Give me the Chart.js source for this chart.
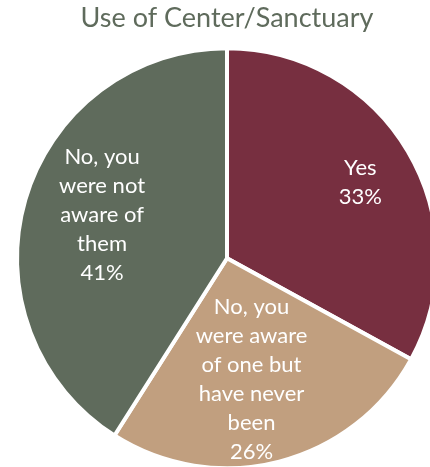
<!DOCTYPE html>
<html>
<head>
<meta charset="utf-8">
<script src="https://cdn.jsdelivr.net/npm/chart.js@4/dist/chart.umd.min.js"></script>
<style>
  html, body { margin: 0; padding: 0; background: #fff; overflow: hidden; }
  #wrap { position: absolute; left: 0; top: 0; width: 454px; height: 482px; }
</style>
</head>
<body>
<div id="wrap"><canvas id="pie" width="454" height="482"></canvas></div>
<script>
// survey answers, clockwise from 12 o'clock
const categories = ['Yes', 'No, you were aware of one but have never been', 'No, you were not aware of them'];
const shares = [33, 26, 41];
const sliceColors = ['#772F40', '#C19F7F', '#5F6B5C'];

// wrapped label text inside each slice
const labelLines = [
  ['Yes'],
  ['No, you', 'were aware', 'of one but', 'have never', 'been'],
  ['No, you', 'were not', 'aware of', 'them']
];
// where each label sits: share of radius, and a small turn (deg) off the slice middle
const labelReach = [0.73, 0.59, 0.63];
const labelTurn = [1, 3, 3];

const sliceLabels = {
  id: 'sliceLabels',
  afterDatasetsDraw(chart) {
    const ctx = chart.ctx;
    const arcs = chart.getDatasetMeta(0).data;
    ctx.save();
    ctx.fillStyle = '#FFFFFF';
    ctx.font = '22px Lato';
    ctx.textAlign = 'center';
    ctx.textBaseline = 'middle';
    const lineH = 29;
    arcs.forEach((arc, i) => {
      const mid = (arc.startAngle + arc.endAngle) / 2 + labelTurn[i] * Math.PI / 180;
      const dist = arc.outerRadius * labelReach[i];
      const cx = arc.x + Math.cos(mid) * dist;
      const cy = arc.y + Math.sin(mid) * dist;
      const lines = labelLines[i].concat([shares[i] + '%']);
      const top = cy - (lines.length - 1) * lineH / 2;
      lines.forEach((t, k) => ctx.fillText(t, cx, top + k * lineH));
    });
    ctx.restore();
  }
};

new Chart(document.getElementById('pie'), {
  type: 'pie',
  data: {
    labels: categories,
    datasets: [{
      data: shares,
      backgroundColor: sliceColors,
      borderColor: '#FFFFFF',
      borderWidth: 4
    }]
  },
  options: {
    responsive: false,
    animation: false,
    radius: 210,
    layout: { padding: 0 },
    plugins: {
      legend: { display: false },
      tooltip: { enabled: false },
      title: {
        display: true,
        text: 'Use of Center/Sanctuary',
        color: '#5F6B5C',
        font: { family: 'Lato', size: 27, weight: 'normal' },
        padding: { top: 2, bottom: 0 }
      }
    }
  },
  plugins: [sliceLabels]
});
</script>
</body>
</html>
